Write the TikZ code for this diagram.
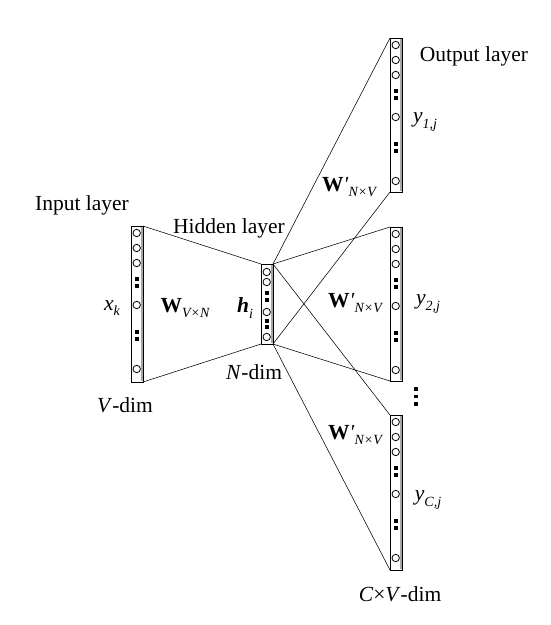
\documentclass[tikz,border=0pt]{standalone}
\usepackage{fontspec}
\setmainfont{Liberation Serif}
\usetikzlibrary{calc}
\tikzset{
  layerbox/.style={draw=black, line width=0.8pt, minimum width=12pt, inner sep=0pt, outer sep=0pt},
  unit/.style={draw=black, line width=0.8pt},
  dotsq/.style={fill=black},
  wire/.style={draw=black, line width=0.55pt},
  lbl/.style={font=\fontsize{21.5}{25}\selectfont, inner sep=0pt},
}
\newcommand{\sbs}[1]{\raisebox{-0.55ex}{\fontsize{14}{15}\selectfont\itshape #1}}
\newcommand{\mydotsq}[2]{\fill[dotsq] ($(#1)+(-1.6,#2-1.6)$) rectangle ($(#1)+(1.6,#2+1.6)$);}
\newcommand{\bigcolumn}[1]{%
  \foreach \d in {7,22,37,79,143} {\draw[unit] ($(#1.north)+(-0.3,\d)$) circle (3.7);}
  \foreach \d in {53,60,106,113} {\mydotsq{#1.north}{\d}}
  \draw[gray!70, line width=1.3pt] ($(#1.north east)+(-1.1,0.6)$) -- ($(#1.south east)+(-1.1,-0.6)$);
}
\begin{document}
\begin{tikzpicture}[x=1pt,y=-1pt]
\useasboundingbox (0,0) rectangle (550,625);
% layer boxes
\node[layerbox, minimum height=156pt] (in) at (137,304) {};
\node[layerbox, minimum height=80pt] (hid) at (267,304) {};
\node[layerbox, minimum height=154pt] (o1) at (396,115) {};
\node[layerbox, minimum height=154pt] (o2) at (396,304) {};
\node[layerbox, minimum height=155pt] (o3) at (396,492.5) {};
% units
\bigcolumn{in}
\bigcolumn{o1}
\bigcolumn{o2}
\bigcolumn{o3}
\foreach \d in {8,18,48,73} {\draw[unit] ($(hid.north)+(-0.3,\d)$) circle (3.7);}
\foreach \d in {29,36,57,63} {\mydotsq{hid.north}{\d}}
\draw[gray!70, line width=1.3pt] ($(hid.north east)+(-1.1,0.6)$) -- ($(hid.south east)+(-1.1,-0.6)$);
% connectors
\draw[wire] (in.north east) -- (hid.north west);
\draw[wire] (in.south east) -- (hid.south west);
\draw[wire] (hid.north east) -- (o1.north west);
\draw[wire] (hid.south east) -- (o1.south west);
\draw[wire] (hid.north east) -- (o2.north west);
\draw[wire] (hid.south east) -- (o2.south west);
\draw[wire] (hid.north east) -- (o3.north west);
\draw[wire] (hid.south east) -- (o3.south west);
% vertical dots between output layers
\coordinate (vd) at (416,389);
\mydotsq{vd}{0}
\mydotsq{vd}{7.5}
\mydotsq{vd}{15}
% labels
\node[lbl] (tin) at (82,205) {Input layer};
\node[lbl] (thid) at (229,228) {Hidden layer};
\node[lbl] (tout) at (474,56) {Output layer};
\node[lbl] (xk) at (112,308) {\textit{x}\sbs{k}};
\node[lbl] (wvn) at (185,308) {\textbf{W}\sbs{V×N}};
\node[lbl] (hi) at (245,308) {\textbf{\textit{h}}\sbs{i}};
\node[lbl] (ndim) at (254,372) {\textit{N}-dim};
\node[lbl] (vdim) at (125,405) {\textit{V}-dim};
\node[lbl] (y1) at (425,122) {\textit{y}\sbs{1,j}};
\node[lbl] (y2) at (428,304) {\textit{y}\sbs{2,j}};
\node[lbl] (yc) at (428,500) {\textit{y}\sbs{C,j}};
\node[lbl] (wp1) at (349,187) {\textbf{W}\textit{′}\sbs{N×V}};
\node[lbl] (wp2) at (355,303) {\textbf{W}\textit{′}\sbs{N×V}};
\node[lbl] (wp3) at (355,435) {\textbf{W}\textit{′}\sbs{N×V}};
\node[lbl] (cvdim) at (400,594) {\textit{C}×\textit{V}-dim};
\end{tikzpicture}
\end{document}
